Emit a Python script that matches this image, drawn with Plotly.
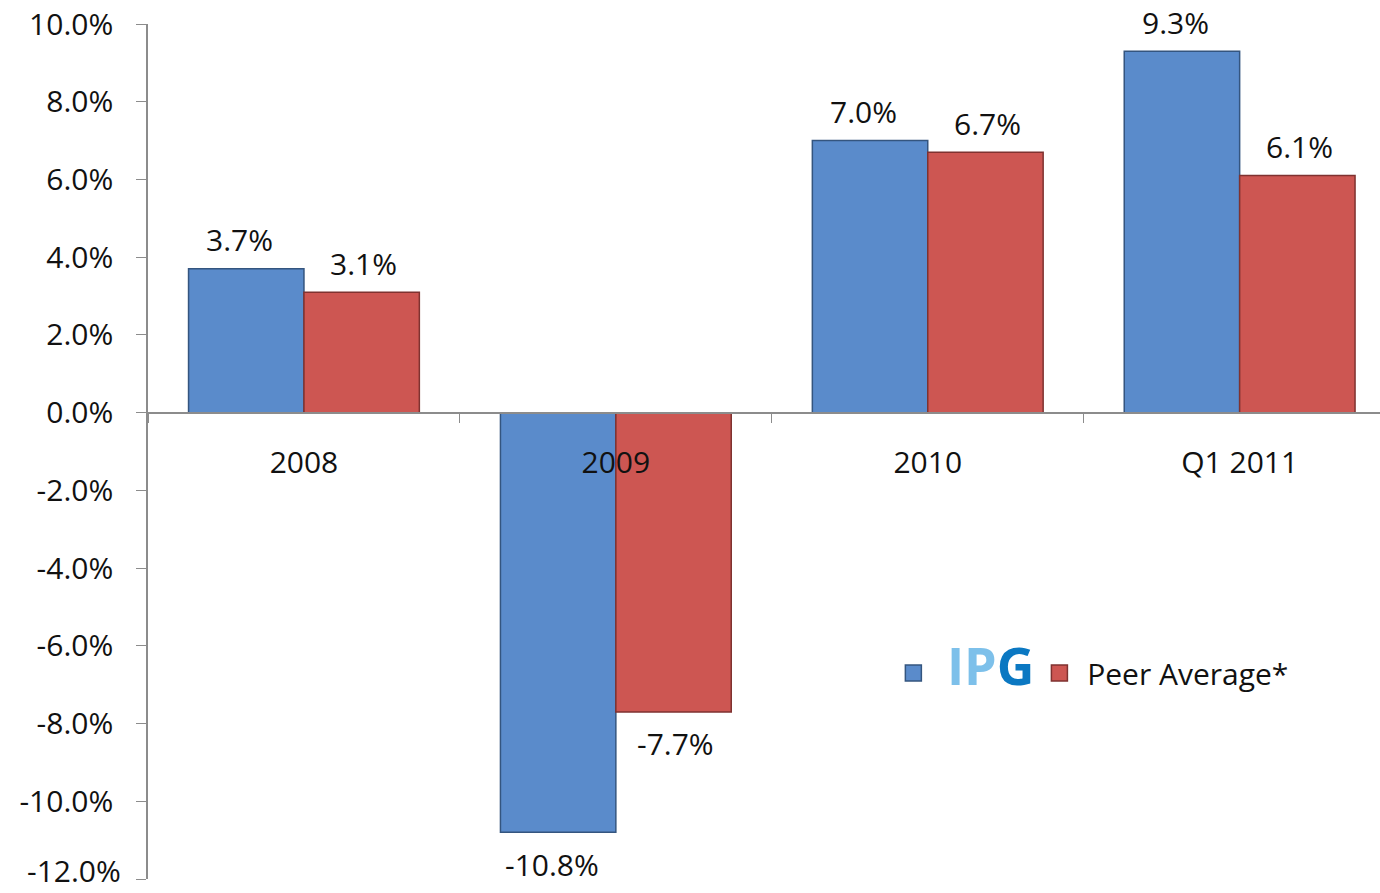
import plotly.graph_objects as go

categories = ["2008", "2009", "2010", "Q1 2011"]
ipg_values = [3.7, -10.8, 7.0, 9.3]
peer_values = [3.1, -7.7, 6.7, 6.1]
y_ticks = [10, 8, 6, 4, 2, 0, -2, -4, -6, -8, -10, -12]

FONT = "Open Sans"
FS = 30
BLUE = "#5A8BCB"
RED = "#CD5652"

ipg_name = ("<span style='font-size:52px'>&nbsp;<b><span style='color:#7DC0EA'>IP</span>"
            "<span style='color:#0B78C2'>G</span></b></span>")
peer_name = "&nbsp;Peer Average*"

fig = go.Figure()
fig.add_trace(go.Bar(x=categories, y=ipg_values, name="IPG", showlegend=False,
                     marker=dict(color=BLUE, line=dict(color="#34557F", width=1.5))))
fig.add_trace(go.Bar(x=categories, y=peer_values, name="Peer Average*", showlegend=False,
                     marker=dict(color=RED, line=dict(color="#7F3230", width=1.5))))

# legend entries with square swatches
fig.add_trace(go.Scatter(x=[None], y=[None], mode="markers", name=ipg_name,
                         marker=dict(symbol="square", size=22, color=BLUE,
                                     line=dict(color="#34557F", width=1.5))))
fig.add_trace(go.Scatter(x=[None], y=[None], mode="markers", name=peer_name,
                         marker=dict(symbol="square", size=22, color=RED,
                                     line=dict(color="#7F3230", width=1.5))))

for vals, xs in ((ipg_values, -64), (peer_values, 60)):
    for i, v in enumerate(vals):
        fig.add_annotation(x=i, y=v, text=f"{v:.1f}%", showarrow=False,
                           xshift=xs, yshift=29 if v >= 0 else -32,
                           yanchor="middle", font=dict(family=FONT, size=FS, color="#111"))

# lowest tick label sits at the page edge: draw it slightly raised so it is not cut
tick_text = [f"{t:.1f}%" for t in y_ticks]
fig.add_annotation(xref="paper", x=0, y=y_ticks[-1], text=tick_text[-1], showarrow=False,
                   xanchor="right", yanchor="bottom", xshift=-25, yshift=-14,
                   font=dict(family=FONT, size=FS, color="#111"))
tick_text[-1] = ""

zero_pos = (0 - (-12)) / (10 - (-12))

fig.update_layout(
    width=1380, height=893,
    margin=dict(l=148, r=0, t=24, b=14, autoexpand=False),
    plot_bgcolor="white", paper_bgcolor="white",
    barmode="group", bargap=0.26, bargroupgap=0,
    font=dict(family=FONT, size=FS, color="#111"),
    showlegend=True,
    legend=dict(orientation="h", x=0.605, y=0.241, xanchor="left", yanchor="middle",
                font=dict(family=FONT, size=FS, color="#111"),
                bgcolor="rgba(0,0,0,0)", itemwidth=30, itemsizing="trace"),
    xaxis=dict(type="category", anchor="free", position=zero_pos, range=[-0.5, 3.45],
               showline=True, linecolor="#8C8C8C", linewidth=1.5,
               ticks="outside", tickson="boundaries", ticklen=10, tickcolor="#8C8C8C",
               ticklabelstandoff=24, showgrid=False, zeroline=False, automargin=False,
               tickfont=dict(family=FONT, size=FS, color="#111")),
    yaxis=dict(range=[-12, 10], tickvals=y_ticks, ticktext=tick_text,
               showline=True, linecolor="#8C8C8C", linewidth=1.5,
               ticks="outside", ticklen=10, tickcolor="#8C8C8C",
               showgrid=False, zeroline=False, ticklabelstandoff=17,
               ticklabeloverflow="allow", automargin=False,
               tickfont=dict(family=FONT, size=FS, color="#111")),
)

fig.write_html("out.html")
